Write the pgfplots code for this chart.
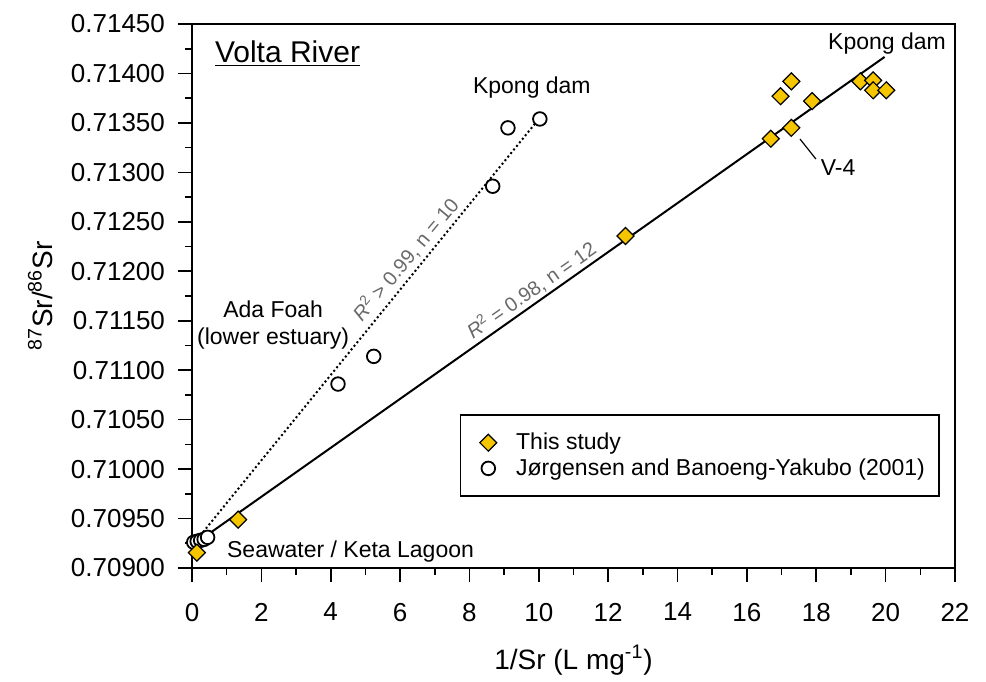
\documentclass[border=0pt]{standalone}
\usepackage{pgfplots}
\pgfplotsset{compat=1.18}
\usepackage{fontspec}
\setmainfont{Liberation Sans}
\definecolor{srgold}{RGB}{245,197,0}
\definecolor{labgray}{RGB}{105,105,105}

\begin{document}
\begin{tikzpicture}
\begin{axis}[
  at={(0,0)}, anchor=south west,
  width=381.5pt, height=272pt, scale only axis,
  xmin=0, xmax=22, ymin=0.709, ymax=0.7145,
  xtick={0,2,...,22}, minor x tick num=1,
  ytick={0.709,0.7095,0.71,0.7105,0.711,0.7115,0.712,0.7125,0.713,0.7135,0.714,0.7145},
  minor y tick num=1,
  scaled y ticks=false,
  yticklabel style={/pgf/number format/.cd, fixed, fixed zerofill, precision=5},
  /pgf/number format/assume math mode=true,
  tick label style={font=\fontsize{13}{15}\selectfont},
  tick align=outside, xtick pos=bottom, ytick pos=left,
  major tick length=7pt, minor tick length=3.5pt,
  every tick/.style={black, line width=0.8pt},
  axis line style={line width=1pt},
  xticklabel shift=7pt, yticklabel shift=3pt,
  xlabel={1/Sr (L mg\textsuperscript{-1})},
  ylabel={\textsuperscript{87}Sr/\textsuperscript{86}Sr},
  label style={font=\fontsize{14}{16}\selectfont},
  xlabel style={at={(axis description cs:0.5,-0.169)}, anchor=center},
  ylabel style={at={(axis description cs:-0.199,0.5)}, anchor=center},
  legend style={at={(rel axis cs:0.980,0.1305)}, anchor=south east,
    draw=black, line width=0.8pt, font=\fontsize{11.5}{13.5}\selectfont,
    inner xsep=5pt, inner ysep=7pt, row sep=-1pt, /tikz/column sep=3pt},
  legend image code/.code={\path (-0.3cm,0cm) (0.3cm,0cm); \draw[#1] plot coordinates {(0cm,0cm)};},
  legend cell align=left,
  reverse legend,
]
% regression lines
\addplot[forget plot, black, line width=1pt] coordinates {(0.1,0.70925) (19.97,0.714167)};
\addplot[forget plot, black, line width=1pt, dash pattern=on 1pt off 1.3pt] coordinates {(0.15,0.70929) (10.0,0.71354)};

% Jorgensen and Banoeng-Yakubo (2001)
\addplot[only marks, mark=*, mark size=3.4pt,
  mark options={fill=white, draw=black, line width=0.9pt}]
coordinates {
(0.05,0.70926) (0.15,0.70927) (0.25,0.70928) (0.35,0.70929) (0.45,0.70931)
(4.21,0.71086) (5.24,0.71114) (8.67,0.71286) (9.11,0.71345) (10.03,0.71354)
};
\addlegendentry{Jørgensen and Banoeng-Yakubo (2001)}

% This study
\addplot[only marks, mark=square*, mark size=3pt,
  mark options={rotate=45, fill=srgold, draw=black, line width=0.6pt}]
coordinates {
(0.14,0.709155) (1.33,0.70949) (12.5,0.712357)
(16.69,0.71334) (17.28,0.71345) (16.97,0.71377) (17.28,0.71392) (17.88,0.71372)
(19.27,0.71392) (19.64,0.71393) (19.64,0.71383) (20.02,0.71383)
};
\addlegendentry{This study}

\draw[black, line width=0.6pt] (axis cs:17.53,0.713337) -- (axis cs:17.99,0.713135);

\node[anchor=west, font=\fontsize{15}{17}\selectfont] at (axis cs:0.46,0.714197) {\underline{Volta River}};
\node[font=\fontsize{11.5}{13.5}\selectfont] at (axis cs:9.80,0.713853) {Kpong dam};
\node[font=\fontsize{11.5}{13.5}\selectfont] at (axis cs:20.04,0.714298) {Kpong dam};
\node[font=\fontsize{11.5}{13.5}\selectfont] at (axis cs:18.63,0.713045) {V-4};
\node[align=center, font=\fontsize{11.5}{13.5}\selectfont] at (axis cs:2.34,0.711457) {Ada Foah\\(lower estuary)};
\node[anchor=west, font=\fontsize{11.5}{13.5}\selectfont] at (axis cs:0.81,0.709162) {Seawater / Keta Lagoon};
\node[labgray, rotate=50, anchor=south, inner sep=1.5pt, font=\fontsize{10}{12}\selectfont] at (axis cs:6.45,0.712035) {\textit{R}\textsuperscript{2} > 0.99, n = 10};
\node[labgray, rotate=35, anchor=south, inner sep=1.5pt, font=\fontsize{10}{12}\selectfont] at (axis cs:10.0,0.71170) {\textit{R}\textsuperscript{2} = 0.98, n = 12};
\end{axis}
\path (-96pt,-56.5pt) rectangle (397pt,284pt);
\end{tikzpicture}
\end{document}
